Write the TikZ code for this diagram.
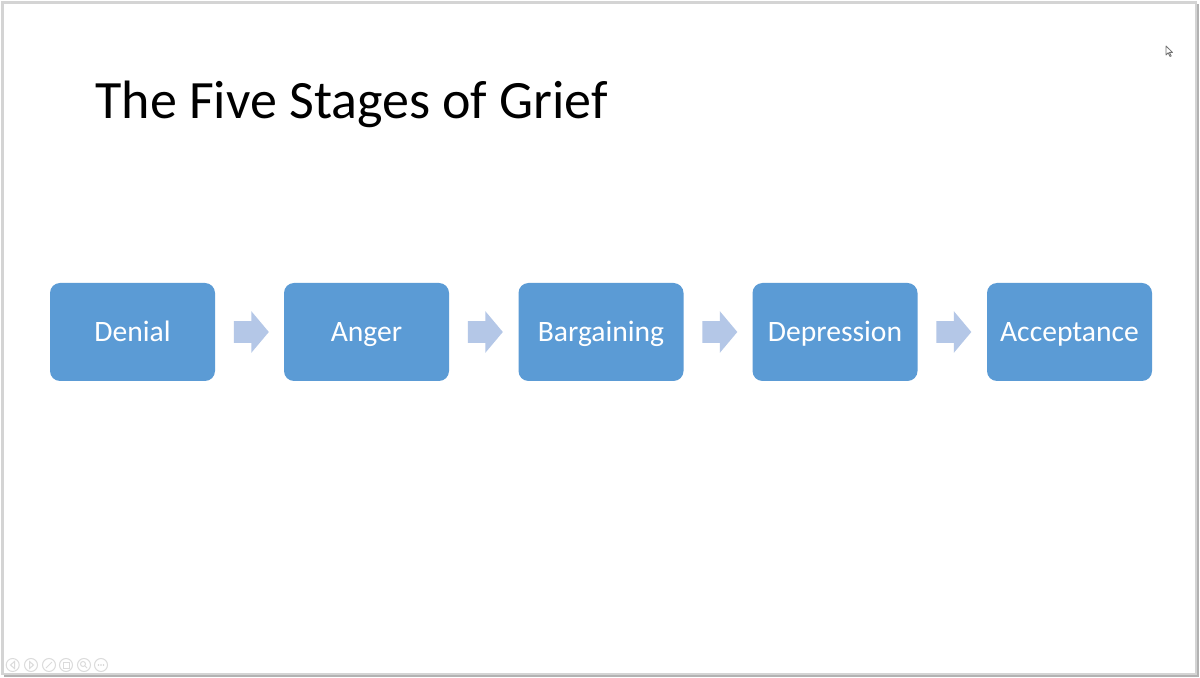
\documentclass[tikz,border=0pt]{standalone}
\usepackage{fontspec}
\setmainfont{Carlito}
\usetikzlibrary{shapes.arrows,calc}

\definecolor{stageblue}{RGB}{91,155,213}
\definecolor{flowblue}{RGB}{180,199,231}

\begin{document}
\begin{tikzpicture}[x=0.5pt,y=-0.5pt,
 stage/.style={fill=stageblue,rounded corners=5pt,minimum width=82.5pt,minimum height=49pt,
   inner sep=0pt,text=white,text height=9.8pt,text depth=0pt,font=\fontsize{14.8}{17}\selectfont},
 flow/.style={single arrow,fill=flowblue,inner xsep=0pt,inner ysep=5.25pt,minimum height=17.5pt,
   single arrow head extend=5pt,single arrow tip angle=100,single arrow head indent=0pt,anchor=tail},
 ctrl/.style={draw=black!14,line width=0.5pt}]
 \useasboundingbox (0,0) rectangle (1200,678);
 % slide frame
 \fill[white] (0,0) rectangle (1200,678);
 \draw[black!30,line width=1.2pt] (4,676)--(1198,676)--(1198,4);
 \draw[black!17,line width=1.2pt] (2.5,2.5) rectangle (1196,674);
 % title
 \node[anchor=base west,inner sep=0pt,font=\fontsize{27}{32}\selectfont] (title) at (95,119) {The Five Stages of Grief};
 % stages
 \node[stage] (denial) at (132.5,332) {Denial};
 \node[stage] (anger) at (366.5,332) {Anger};
 \node[stage] (bargaining) at (601,332) {Bargaining};
 \node[stage] (depression) at (835,332) {Depression};
 \node[stage] (acceptance) at (1069.5,332) {Acceptance};
 \node[flow] (flow1) at ($(denial.east)+(18,0)$) {};
 \node[flow] (flow2) at ($(anger.east)+(18,0)$) {};
 \node[flow] (flow3) at ($(bargaining.east)+(18,0)$) {};
 \node[flow] (flow4) at ($(depression.east)+(18,0)$) {};
 % pointer
 \draw[black!55,line width=0.4pt,fill=white,line join=round] (1166,46)--(1166,55)--(1168.2,52.8)--(1170,56.5)--(1171.2,56)--(1169.5,52.4)--(1172.5,52.4)--cycle;
 % show controls
 \draw[ctrl] (12.7,665) circle (6.5);
 \draw[ctrl] (31,665) circle (6.5);
 \draw[ctrl] (49,665) circle (6.5);
 \draw[ctrl] (66,665) circle (6.5);
 \draw[ctrl] (84,665) circle (6.5);
 \draw[ctrl] (101,665) circle (6.5);
 \draw[ctrl] (14.5,661.5)--(10.5,665)--(14.5,668.5)--cycle;
 \draw[ctrl] (29.5,661.5)--(33.5,665)--(29.5,668.5)--cycle;
 \draw[ctrl] (46,668)--(52,662);
 \draw[ctrl] (63,662.5) rectangle (69,668);
 \draw[ctrl] (83,664) circle (2.5);
 \draw[ctrl] (85,666)--(87,668);
 \fill[black!18] (98.5,665) circle (0.8) (101,665) circle (0.8) (103.5,665) circle (0.8);
\end{tikzpicture}
\end{document}
